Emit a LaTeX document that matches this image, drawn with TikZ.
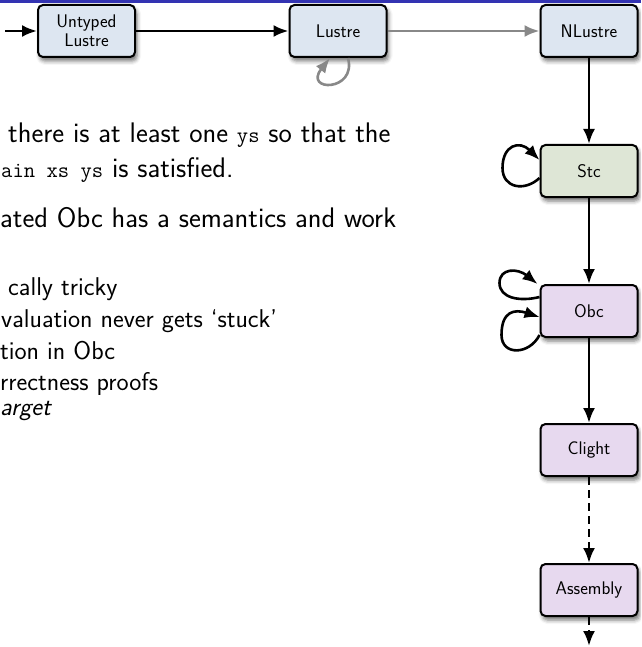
\documentclass[tikz,border=0pt]{standalone}
\usepackage{fontspec}
\usetikzlibrary{arrows.meta,calc,shadows.blur}

\definecolor{barblue}{RGB}{51,51,178}
\definecolor{lustrefill}{RGB}{221,230,241}
\definecolor{stcfill}{RGB}{222,230,214}
\definecolor{obcfill}{RGB}{231,217,239}
\definecolor{flowgray}{RGB}{136,136,136}

\newcommand\mycode[1]{{\ttfamily\fontsize{22}{22}\selectfont #1}}

\begin{document}
\begin{tikzpicture}[x=1pt,y=-1pt,
  stage/.style={draw=black, line width=2pt, rounded corners=5pt,
    minimum width=97pt, minimum height=52pt, inner sep=0pt, align=center,
    font=\sffamily\fontsize{18.3}{19}\selectfont\addfontfeature{FakeBold=0.6},
    blur shadow={shadow xshift=2pt, shadow yshift=-4pt,
      shadow blur radius=4pt, shadow opacity=55}},
  lustrestage/.style={stage, fill=lustrefill},
  stcstage/.style={stage, fill=stcfill},
  obcstage/.style={stage, fill=obcfill},
  flow/.style={line width=2.6pt, draw=black,
    -{Latex[length=15pt,width=12pt]}},
  grayflow/.style={flow, draw=flowgray, color=flowgray},
  hopeflow/.style={flow, dash pattern=on 8pt off 5pt},
  bodytext/.style={anchor=base west, inner sep=0pt,
    font=\sffamily\fontsize{28.3}{35}\selectfont},
  subtext/.style={anchor=base west, inner sep=0pt,
    font=\sffamily\fontsize{25.7}{31}\selectfont}
]
\useasboundingbox (0,0) rectangle (641,647);
\clip (0,0) rectangle (641,647);

% title bar edge
\fill[barblue] (0,0) rectangle (641,3.5);

% compiler passes
\node[lustrestage] (untyped) at (86.5,31) {Untyped\\Lustre};
\node[lustrestage] (lustre)  at (338,31)  {Lustre};
\node[lustrestage] (nlustre) at (589,31)  {NLustre};
\node[stcstage]    (stc)     at (589,171) {Stc};
\node[obcstage]    (obc)     at (589,311) {Obc};
\node[obcstage]    (clight)  at (589,450) {Clight};
\node[obcstage]    (asm)     at (589,590) {Assembly};

\coordinate (src) at (5,31);
\coordinate (sink) at (589,646);

% main chain
\draw[flow] (src) -- (untyped.west);
\draw[flow] (untyped.east) -- (lustre.west);
\draw[grayflow] (lustre.east) -- (nlustre.west);
\draw[flow] (nlustre.south) -- (stc.north);
\draw[flow] (stc.south) -- (obc.north);
\draw[flow] (obc.south) -- (clight.north);
\draw[hopeflow] (clight.south) -- (asm.north);
\draw[hopeflow] (asm.south) -- (sink);

% intra-language passes
\draw[grayflow] ($(lustre.south)+(10,0)$)
  .. controls ($(lustre.south)+(19,34)$) and ($(lustre.south)+(-35,34)$)
  .. ($(lustre.south)+(-8,0)$);
\draw[flow] ($(stc.west)+(0,7)$)
  .. controls ($(stc.west)+(-15,21)$) and ($(stc.west)+(-37,17)$)
  .. ($(stc.west)+(-37,-3)$)
  .. controls ($(stc.west)+(-37,-26)$) and ($(stc.west)+(-20,-31)$)
  .. ($(stc.west)+(0,-11)$);
\draw[flow] ($(obc.west)+(0,-14)$)
  .. controls ($(obc.west)+(-20,-9)$) and ($(obc.west)+(-40,-13)$)
  .. ($(obc.west)+(-40,-28)$)
  .. controls ($(obc.west)+(-40,-43)$) and ($(obc.west)+(-22,-43)$)
  .. ($(obc.west)+(-2,-27)$);
\draw[flow] ($(obc.west)+(0,24)$)
  .. controls ($(obc.west)+(-10,44)$) and ($(obc.west)+(-38,45)$)
  .. ($(obc.west)+(-38,24)$)
  .. controls ($(obc.west)+(-38,0)$) and ($(obc.west)+(-25,-2)$)
  .. ($(obc.west)+(0,6)$);

% slide text
\node[bodytext] (t1) at (8,143) {there is at least one \mycode{ys} so that the};
\node[bodytext] (t2) at (1,178) {\mycode{ain xs ys} is satisfied.};
\node[bodytext] (t3) at (0,227) {ated Obc has a semantics and work};
\node[subtext] (s1) at (8,295) {cally tricky};
\node[subtext] (s2) at (1,327) {valuation never gets `stuck'};
\node[subtext] (s3) at (0,359) {tion in Obc};
\node[subtext] (s4) at (0,390) {rrectness proofs};
\node[subtext] (s5) at (0,415) {\itshape arget};
\end{tikzpicture}
\end{document}
